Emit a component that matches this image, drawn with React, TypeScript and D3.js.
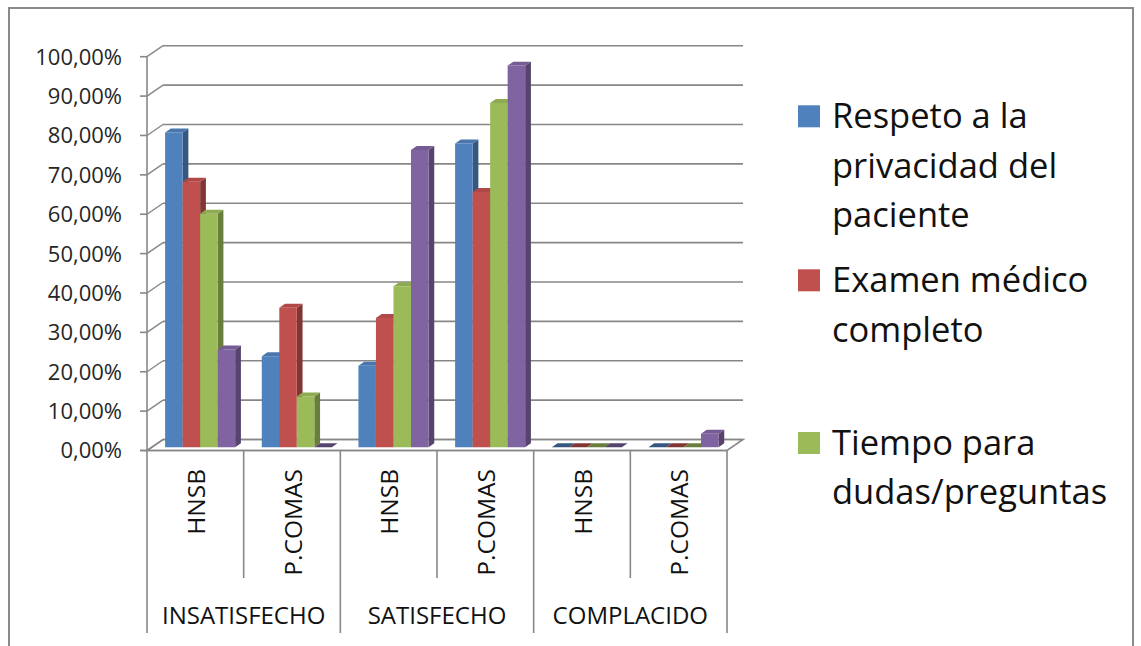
import React from "react";
import * as d3 from "d3";

// Category structure: outer groups and the two sites inside each group
const groups = ["INSATISFECHO", "SATISFECHO", "COMPLACIDO"];
const sites = ["HNSB", "P.COMAS"];

// Series (percent values per group/site, in order: INS-HNSB, INS-PCOMAS, SAT-HNSB, SAT-PCOMAS, COM-HNSB, COM-PCOMAS)
const seriesNames = [
  "Respeto a la privacidad del paciente",
  "Examen médico completo",
  "Tiempo para dudas/preguntas",
  "Trato amable",
];
const respeto = [79.9, 23.1, 20.7, 77.1, 0, 0];
const examen = [67.4, 35.4, 32.8, 64.8, 0, 0];
const tiempo = [59.3, 12.9, 40.9, 87.4, 0, 0];
const trato = [24.8, 0, 75.5, 96.9, 0, 3.4];
const seriesValues = [respeto, examen, tiempo, trato];
const colors = ["#4F81BD", "#C0504D", "#9BBB59", "#8064A2"];

const yTicks = [0, 10, 20, 30, 40, 50, 60, 70, 80, 90, 100];

// Legend entries that fit in the box, with their wrapped lines
const legendLines = [
  ["Respeto a la", "privacidad del", "paciente"],
  ["Examen médico", "completo"],
  ["Tiempo para", "dudas/preguntas"],
];

const FONT = "'Open Sans', Lato, sans-serif";
const GRID = "#878787";

export default function App() {
  const W = 1141;
  const H = 646;

  // plot geometry (front plane) and depth offset of the back wall
  const x0 = 147;
  const x1 = 727;
  const depthX = 16;
  const depthY = -11;

  const y = d3.scaleLinear().domain([0, 100]).range([450.5, 56.7]);

  const clusters = groups.flatMap((g) => sites.map((s) => `${g}|${s}`));
  const xc = d3.scaleBand<string>().domain(clusters).range([x0, x1]).padding(0);
  const xg = d3.scaleBand<string>().domain(groups).range([x0, x1]).padding(0);
  const xs = d3
    .scaleBand<string>()
    .domain(seriesNames)
    .range([0, xc.bandwidth()])
    .paddingInner(0)
    .paddingOuter(0.76);

  // bars sit between these depth fractions
  const f0 = 0.3;
  const f1 = 0.66;
  const frontDx = f0 * depthX;
  const frontDy = f0 * depthY;
  const sideDx = (f1 - f0) * depthX;
  const sideDy = (f1 - f0) * depthY;

  const fmt = (v: number) => d3.format(".2f")(v).replace(".", ",") + "%";

  const bars: React.ReactNode[] = [];
  clusters.forEach((c, ci) => {
    seriesNames.forEach((sn, si) => {
      const v = seriesValues[si][ci];
      const bx = (xc(c) as number) + (xs(sn) as number) + frontDx;
      const bw = xs.bandwidth();
      const base = y(0) + frontDy;
      const top = y(v) + frontDy;
      const col = d3.color(colors[si])!;
      const topCol = col.darker(0.25).formatHex();
      const sideCol = col.darker(1.1).formatHex();
      const frontPts = [
        [bx, top],
        [bx + bw, top],
        [bx + bw, base],
        [bx, base],
      ];
      const topPts = [
        [bx, top],
        [bx + bw, top],
        [bx + bw + sideDx, top + sideDy],
        [bx + sideDx, top + sideDy],
      ];
      const sidePts = [
        [bx + bw, top],
        [bx + bw + sideDx, top + sideDy],
        [bx + bw + sideDx, base + sideDy],
        [bx + bw, base],
      ];
      const pts = (p: number[][]) => p.map((q) => q.join(",")).join(" ");
      bars.push(
        <g key={`${c}-${si}`}>
          {v > 0 && <polygon points={pts(sidePts)} fill={sideCol} />}
          {v > 0 && <polygon points={pts(frontPts)} fill={colors[si]} />}
          <polygon points={pts(topPts)} fill={v > 0 ? topCol : sideCol} />
        </g>
      );
    });
  });

  return (
    <svg
      width={W}
      height={H}
      style={{ position: "absolute", left: 0, top: 0, background: "#fff" }}
      fontFamily={FONT}
    >
      {/* chart frame */}
      <path d={`M9,${H} V8 H1133 V${H}`} fill="none" stroke="#8a8a8a" strokeWidth={2} />

      {/* back wall gridlines, side diagonals and tick marks */}
      {yTicks.map((t) => (
        <g key={t}>
          <line x1={x0 + depthX} x2={x1 + depthX} y1={y(t) + depthY} y2={y(t) + depthY} stroke={GRID} strokeWidth={1.6} />
          <line x1={x0} x2={x0 + depthX} y1={y(t)} y2={y(t) + depthY} stroke={GRID} strokeWidth={1.4} />
          <line x1={x0 - 7} x2={x0} y1={y(t)} y2={y(t)} stroke={GRID} strokeWidth={1.6} />
          <text x={122} y={y(t)} dy="0.36em" textAnchor="end" fontSize={22} fill="#262626">
            {fmt(t)}
          </text>
        </g>
      ))}

      {/* floor */}
      <polygon
        points={`${x0},${y(0)} ${x1},${y(0)} ${x1 + depthX},${y(0) + depthY} ${x0 + depthX},${y(0) + depthY}`}
        fill="none"
        stroke={GRID}
        strokeWidth={1.6}
      />
      {/* value axis */}
      <line x1={x0} x2={x0} y1={y(100)} y2={y(0)} stroke={GRID} strokeWidth={1.6} />

      {bars}

      {/* category axis */}
      <line x1={x0 - 7} x2={x1} y1={y(0)} y2={y(0)} stroke={GRID} strokeWidth={1.6} />
      {clusters.map((c, ci) => {
        const left = xc(c) as number;
        const isGroupStart = ci % 2 === 0;
        return (
          <line
            key={`d${c}`}
            x1={left}
            x2={left}
            y1={y(0)}
            y2={isGroupStart ? 633 : 578}
            stroke={GRID}
            strokeWidth={1.6}
          />
        );
      })}
      <line x1={x1} x2={x1} y1={y(0)} y2={633} stroke={GRID} strokeWidth={1.6} />

      {clusters.map((c) => {
        const cx = (xc(c) as number) + xc.bandwidth() / 2;
        const label = c.split("|")[1];
        return (
          <text
            key={`l${c}`}
            transform={`translate(${cx + 1},469) rotate(-90)`}
            textAnchor="end"
            dy="0.36em"
            fontSize={24.5}
            fill="#111"
          >
            {label}
          </text>
        );
      })}
      {groups.map((g) => (
        <text
          key={g}
          x={(xg(g) as number) + xg.bandwidth() / 2}
          y={624}
          textAnchor="middle"
          fontSize={24}
          fill="#111"
        >
          {g}
        </text>
      ))}

      {/* legend */}
      {legendLines.map((lines, i) => {
        const firstBaseline = [128.3, 292.3, 455][i];
        return (
          <g key={`lg${i}`}>
            <rect x={798} y={firstBaseline - 23} width={22} height={22} fill={colors[i]} />
            {lines.map((ln, j) => (
              <text key={j} x={832} y={firstBaseline + j * 49.3} fontSize={34.5} fill="#111">
                {ln}
              </text>
            ))}
          </g>
        );
      })}
    </svg>
  );
}
